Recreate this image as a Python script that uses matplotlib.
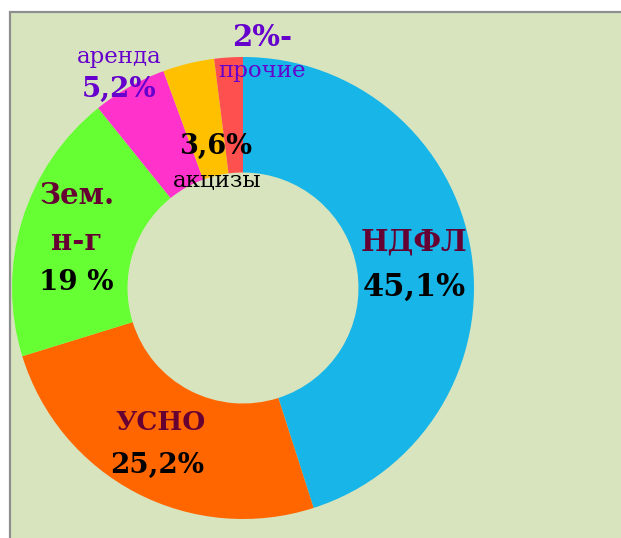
import matplotlib
matplotlib.use("Agg")
import matplotlib.pyplot as plt
from matplotlib.patches import Rectangle

# Data
categories = ["НДФЛ", "УСНО", "Зем. н-г", "аренда", "акцизы", "прочие"]
values = [45.1, 25.2, 19.0, 5.2, 3.6, 2.0]
colors = ["#17B5E8", "#FF6600", "#66FF33", "#FF33CC", "#FFC000", "#FF5050"]

W, H = 621, 538
fig = plt.figure(figsize=(W / 100, H / 100), dpi=100)
fig.patch.set_facecolor("white")
ax = fig.add_axes([0, 0, 1, 1])

def Y(y):
    return H - y

ax.add_patch(Rectangle((10, -5), 700, Y(12) + 5, facecolor="#D8E4BE",
                       edgecolor="#8E8E8E", linewidth=1.6, zorder=0))

ax.pie(values, colors=colors, startangle=90, counterclock=False,
       center=(243, Y(288)), radius=231,
       wedgeprops=dict(width=115.5, edgecolor="none", linewidth=0))

ax.set_xlim(0, W)
ax.set_ylim(0, H)
ax.set_aspect("equal")
ax.axis("off")

serif = ["DejaVu Serif"]
maroon = "#660033"
purple = "#6600CC"

def t(x, y, s, size, color, bold=True):
    ax.text(x, Y(y), s, ha="center", va="center", fontsize=size, color=color,
            family=serif, fontweight="bold" if bold else "normal", zorder=5)

t(414, 242, "НДФЛ", 21, maroon)
t(414, 287, "45,1%", 22, "black")
t(161, 423, "УСНО", 19, maroon)
t(157, 465, "25,2%", 20, "black")
t(77, 196, "Зем.", 21, maroon)
t(77, 241, "н-г", 21, maroon)
t(76, 283, "19 %", 20, "black")
t(119, 57, "аренда", 16.5, purple, bold=False)
t(119, 89, "5,2%", 20, purple)
t(216, 146, "3,6%", 19.5, "black")
t(217, 181, "акцизы", 16.5, "black", bold=False)
t(262, 37, "2%-", 21, purple)
t(262, 71, "прочие", 16.5, purple, bold=False)

fig.savefig("out.png", dpi=100, facecolor=fig.get_facecolor())
